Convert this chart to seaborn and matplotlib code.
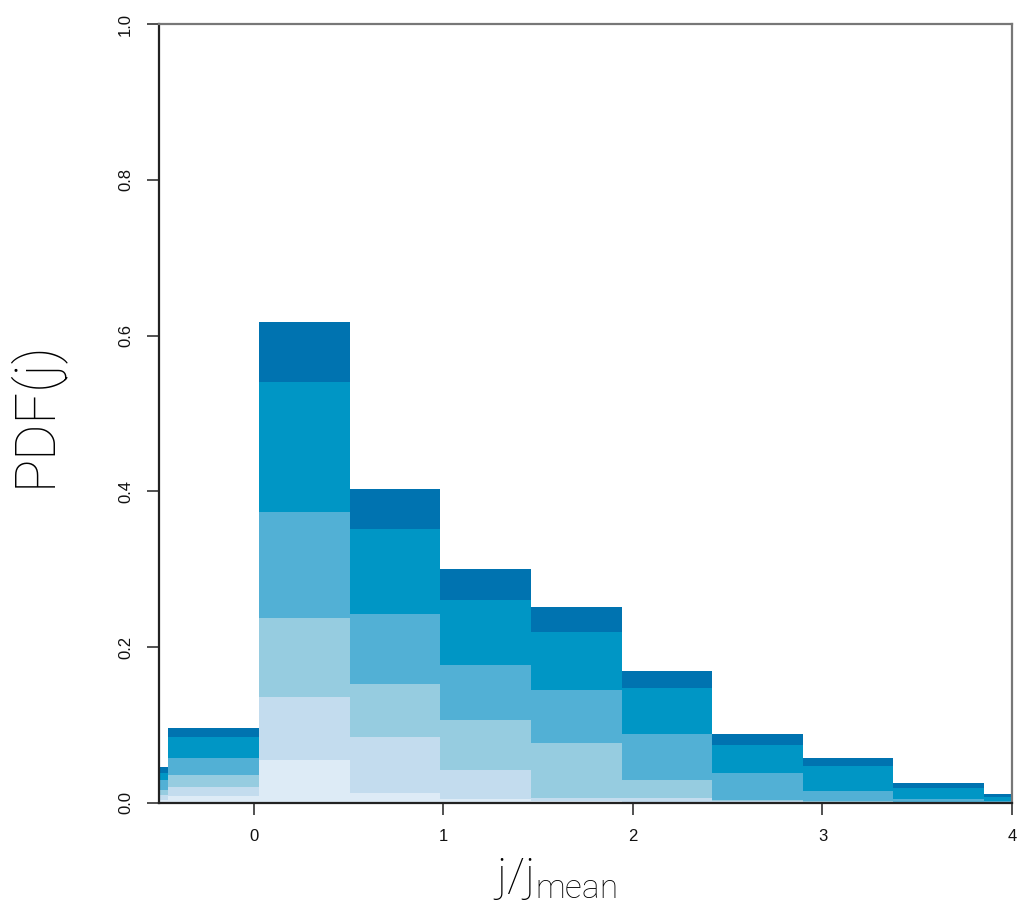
import numpy as np
import pandas as pd
import matplotlib
matplotlib.use("Agg")
import matplotlib.pyplot as plt
import seaborn as sns

# Bin edges (j/j_mean)
bin_edges = [-0.928, -0.45, 0.028, 0.506, 0.984, 1.462, 1.94, 2.418, 2.896, 3.374, 3.852, 4.33]

# Cumulative height (top of each colour band) per bin, darkest band first
layer_tops = {
    "L6": [0.046, 0.096, 0.617, 0.403, 0.300, 0.251, 0.169, 0.089, 0.058, 0.026, 0.0115],
    "L5": [0.038, 0.085, 0.540, 0.352, 0.261, 0.220, 0.147, 0.074, 0.047, 0.019, 0.008],
    "L4": [0.029, 0.058, 0.374, 0.243, 0.177, 0.145, 0.089, 0.038, 0.016, 0.005, 0.002],
    "L3": [0.017, 0.036, 0.237, 0.153, 0.106, 0.077, 0.029, 0.004, 0.002, 0.001, 0.0],
    "L2": [0.010, 0.020, 0.136, 0.085, 0.042, 0.007, 0.006, 0.002, 0.0, 0.0, 0.0],
    "L1": [0.004, 0.009, 0.055, 0.013, 0.005, 0.002, 0.001, 0.0, 0.0, 0.0, 0.0],
}
layer_colors = {
    "L6": "#0073b0",
    "L5": "#0096c5",
    "L4": "#52b0d5",
    "L3": "#96cce0",
    "L2": "#c3dcee",
    "L1": "#ddebf6",
}

x_ticks = [0, 1, 2, 3, 4]
y_ticks = [0.0, 0.2, 0.4, 0.6, 0.8, 1.0]

sns.set_style("white")
plt.rcParams["font.family"] = ["Liberation Sans", "DejaVu Sans"]
plt.rcParams["mathtext.fontset"] = "custom"
plt.rcParams["mathtext.rm"] = "Roboto:light"
plt.rcParams["mathtext.it"] = "Roboto:light"

fig = plt.figure(figsize=(10.27, 9.19), dpi=100)
ax = fig.add_axes([159 / 1027, 1 - 803 / 919, 853 / 1027, 779 / 919])

edges = np.array(bin_edges)
centers = (edges[:-1] + edges[1:]) / 2

# overlay bands: largest cumulative first, lighter ones on top
for name in ["L6", "L5", "L4", "L3", "L2", "L1"]:
    df = pd.DataFrame({"x": centers, "w": layer_tops[name]})
    sns.histplot(data=df, x="x", weights="w", bins=bin_edges, stat="count",
                 color=layer_colors[name], alpha=1, linewidth=0,
                 element="bars", ax=ax)

ax.set_xlim(-0.5, 4.0)
ax.set_ylim(0, 1.0)
ax.set_xticks(x_ticks)
ax.set_xticklabels([str(t) for t in x_ticks])
ax.set_yticks(y_ticks)
ax.set_yticklabels([f"{t:.1f}" for t in y_ticks], rotation=90, va="center")

ax.tick_params(axis="both", direction="out", length=8.6, width=1.1,
               color="#222222", labelsize=12, labelcolor="#111111", pad=10)
ax.tick_params(left=True, bottom=True)

for side in ["left", "bottom"]:
    ax.spines[side].set_color("#222222")
    ax.spines[side].set_linewidth(1.6)
for side in ["top", "right"]:
    ax.spines[side].set_color("#777777")
    ax.spines[side].set_linewidth(1.6)

ax.set_xlabel(r"$\mathrm{j/j}_{\mathrm{mean}}$", fontsize=34, color="black")
ax.xaxis.set_label_coords(0.464, -0.068)
ax.set_ylabel("PDF(j)", fontsize=40, family="Roboto", fontweight="light",
              color="black")
ax.yaxis.set_label_coords(-0.113, 0.5)

fig.savefig("out.png", dpi=100)
